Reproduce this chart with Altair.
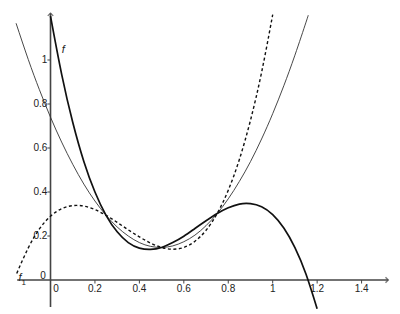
import altair as alt
import pandas as pd

# thick solid curve f
f_x = [0.00, 0.05, 0.10, 0.15, 0.20, 0.25, 0.30, 0.35, 0.40, 0.45, 0.50, 0.55,
       0.60, 0.65, 0.70, 0.75, 0.80, 0.85, 0.90, 0.95, 1.00, 1.05, 1.10, 1.15, 1.20]
f_y = [1.199, 0.936, 0.717, 0.539, 0.400, 0.294, 0.219, 0.170, 0.145, 0.139, 0.148, 0.170,
       0.199, 0.234, 0.269, 0.302, 0.328, 0.345, 0.347, 0.333, 0.297, 0.236, 0.147, 0.026, -0.131]

# thin solid parabola
p_x = [-0.155, -0.10, -0.05, 0.00, 0.05, 0.10, 0.15, 0.20, 0.25, 0.30, 0.35, 0.40, 0.45, 0.50,
       0.55, 0.60, 0.65, 0.70, 0.75, 0.80, 0.85, 0.90, 0.95, 1.00, 1.05, 1.10, 1.15, 1.16]
p_y = [1.167, 1.002, 0.865, 0.740, 0.627, 0.526, 0.436, 0.359, 0.294, 0.241, 0.200, 0.170, 0.153, 0.148,
       0.155, 0.174, 0.204, 0.247, 0.302, 0.369, 0.448, 0.538, 0.641, 0.756, 0.883, 1.022, 1.172, 1.204]

# dashed curve f1
g_x = [-0.152, -0.10, -0.05, 0.00, 0.05, 0.10, 0.15, 0.20, 0.25, 0.30, 0.35, 0.40,
       0.45, 0.50, 0.55, 0.60, 0.65, 0.70, 0.75, 0.80, 0.85, 0.90, 0.95, 1.00]
g_y = [0.030, 0.146, 0.232, 0.290, 0.324, 0.338, 0.336, 0.320, 0.294, 0.262, 0.228, 0.196,
       0.168, 0.148, 0.140, 0.148, 0.176, 0.226, 0.302, 0.408, 0.548, 0.726, 0.944, 1.206]

x_ticks = [0.2, 0.4, 0.6, 0.8, 1.0, 1.2, 1.4]
x_labels = ["0.2", "0.4", "0.6", "0.8", "1", "1.2", "1.4"]
y_ticks = [0.2, 0.4, 0.6, 0.8, 1.0]
y_labels = ["0.2", "0.4", "0.6", "0.8", "1"]

x_axis_ends = [-0.15, 1.52]
y_axis_ends = [-0.123, 1.213]

xs = alt.Scale(domain=[-0.2273, 1.5729], nice=False, zero=False)
ys = alt.Scale(domain=[-0.1545, 1.2727], nice=False, zero=False)

def X(f="x"):
    return alt.X(f + ":Q", scale=xs, axis=None)

def Y(f="y"):
    return alt.Y(f + ":Q", scale=ys, axis=None)

axis_col = "#444444"
txt_col = "#222222"

xa = alt.Chart(pd.DataFrame({"x": [x_axis_ends[0]], "x2": [x_axis_ends[1]], "y": [0.0]})).mark_rule(
    color=axis_col, strokeWidth=1.6).encode(x=X(), x2="x2:Q", y=Y())
ya = alt.Chart(pd.DataFrame({"y": [y_axis_ends[0]], "y2": [y_axis_ends[1]], "x": [0.0]})).mark_rule(
    color=axis_col, strokeWidth=1.6).encode(y=Y(), y2="y2:Q", x=X())

arrow_r = alt.Chart(pd.DataFrame({"x": [x_axis_ends[1]], "y": [0.0]})).mark_point(
    shape="M-1,-1L0,0L-1,1", filled=False, stroke=axis_col, strokeWidth=1.4, size=30
).encode(x=X(), y=Y())
arrow_u = alt.Chart(pd.DataFrame({"x": [0.0], "y": [y_axis_ends[1]]})).mark_point(
    shape="M-1,1L0,0L1,1", filled=False, stroke=axis_col, strokeWidth=1.4, size=30
).encode(x=X(), y=Y())

xt_df = pd.DataFrame({"x": x_ticks, "y": [0.0] * len(x_ticks), "y2": [-0.016] * len(x_ticks), "t": x_labels,
                      "ly": [-0.040] * len(x_ticks)})
xt = alt.Chart(xt_df).mark_rule(color=axis_col, strokeWidth=1).encode(x=X(), y=Y(), y2="y2:Q")
xl = alt.Chart(xt_df).mark_text(fontSize=10, font="Liberation Sans", color=txt_col, baseline="middle",
                                align="center").encode(x=X(), y=Y("ly"), text="t:N")

yt_df = pd.DataFrame({"y": y_ticks, "x": [0.0] * len(y_ticks), "x2": [-0.014] * len(y_ticks), "t": y_labels,
                      "lx": [-0.014] * len(y_ticks)})
yt = alt.Chart(yt_df).mark_rule(color=axis_col, strokeWidth=1).encode(y=Y(), x=X(), x2="x2:Q")
yl = alt.Chart(yt_df).mark_text(fontSize=10, font="Liberation Sans", color=txt_col, baseline="middle",
                                align="right").encode(x=X("lx"), y=Y(), text="t:N")

zero_df = pd.DataFrame({"x": [0.025, -0.034], "y": [-0.040, 0.018], "t": ["0", "0"]})
zl = alt.Chart(zero_df).mark_text(fontSize=10, font="Liberation Sans", color=txt_col, baseline="middle",
                                  align="center").encode(x=X(), y=Y(), text="t:N")

curve_f = alt.Chart(pd.DataFrame({"x": f_x, "y": f_y})).mark_line(
    color="#111111", strokeWidth=1.7, interpolate="natural").encode(x=X(), y=Y())
curve_p = alt.Chart(pd.DataFrame({"x": p_x, "y": p_y})).mark_line(
    color="#333333", strokeWidth=0.9, interpolate="natural").encode(x=X(), y=Y())
curve_g = alt.Chart(pd.DataFrame({"x": g_x, "y": g_y})).mark_line(
    color="#111111", strokeWidth=1.4, strokeDash=[3, 2.5], interpolate="natural").encode(x=X(), y=Y())

name_df = pd.DataFrame({"x": [0.057, -0.137], "y": [1.045, 0.009], "t": ["f", "f"]})
names = alt.Chart(name_df).mark_text(fontSize=11, font="Liberation Sans", fontStyle="italic", color=txt_col,
                                     baseline="middle", align="center").encode(x=X(), y=Y(), text="t:N")
sub_df = pd.DataFrame({"x": [-0.121], "y": [-0.013], "t": ["1"]})
sub = alt.Chart(sub_df).mark_text(fontSize=8, font="Liberation Sans", color=txt_col,
                                  baseline="middle", align="center").encode(x=X(), y=Y(), text="t:N")

chart = alt.layer(xa, ya, xt, yt, arrow_r, arrow_u, xl, yl, zl, curve_p, curve_g, curve_f, names, sub).properties(
    width=400, height=314, padding=0, autosize=alt.AutoSizeParams(type="none"),
    background="white"
).configure_view(strokeWidth=0)

chart.save("out.html", embed_options={"renderer": "svg", "actions": False})
